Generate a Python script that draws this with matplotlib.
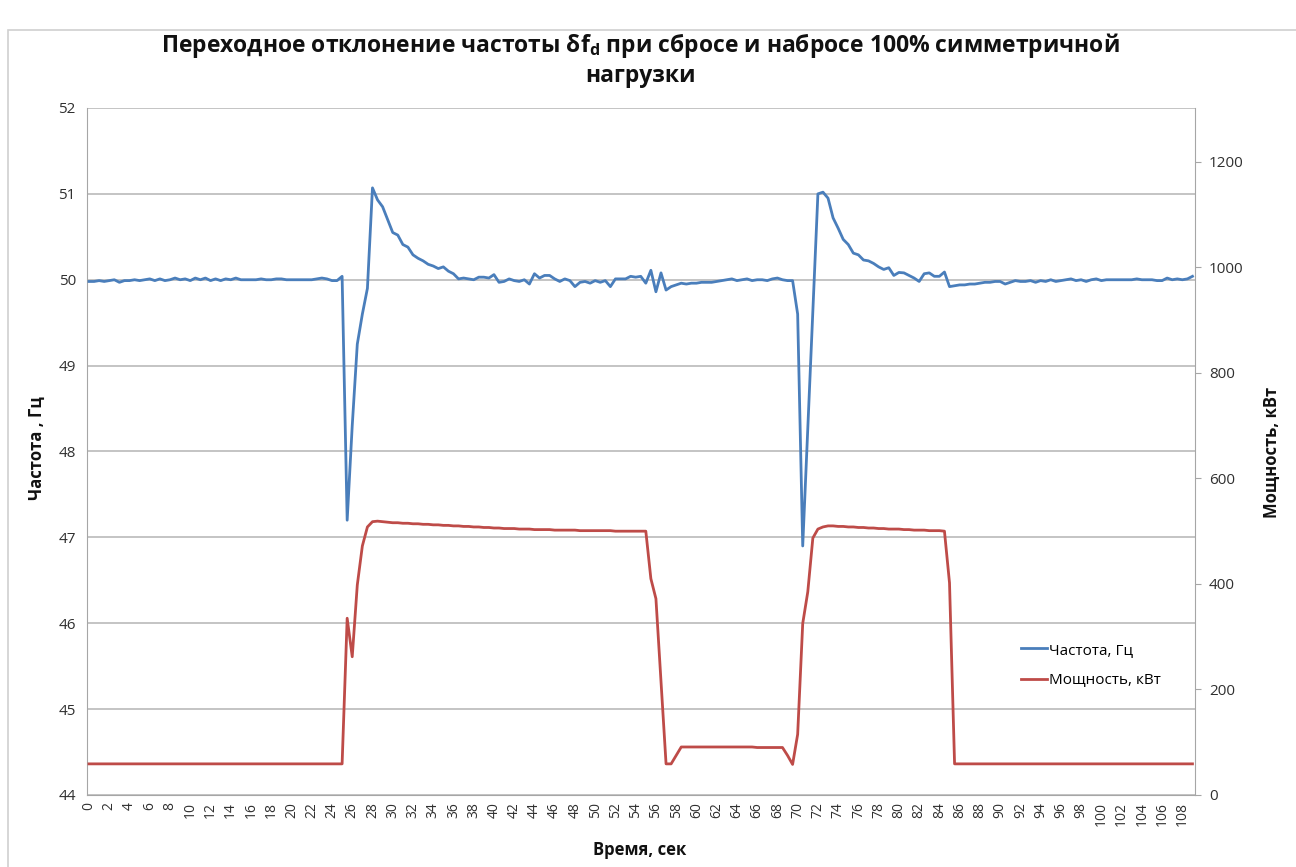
import numpy as np
import matplotlib
matplotlib.use('Agg')
import matplotlib.pyplot as plt
from matplotlib.patches import Rectangle

plt.rcParams['font.family'] = ['Open Sans', 'DejaVu Sans']
plt.rcParams['mathtext.fontset'] = 'custom'
plt.rcParams['mathtext.rm'] = 'Open Sans'
plt.rcParams['mathtext.bf'] = 'Open Sans:bold'

# время, с (шаг 0.5 с)
time_s = np.arange(0, 109.5, 0.5)

freq_hz = [
    49.98, 49.98, 49.99, 49.98, 49.99, 50.00, 49.97, 49.99, 49.99, 50.00,
    49.99, 50.00, 50.01, 49.99, 50.01, 49.99, 50.00, 50.02, 50.00, 50.01,
    49.99, 50.02, 50.00, 50.02, 49.99, 50.01, 49.99, 50.01, 50.00, 50.02,
    50.00, 50.00, 50.00, 50.00, 50.01, 50.00, 50.00, 50.01, 50.01, 50.00,
    50.00, 50.00, 50.00, 50.00, 50.00, 50.01, 50.02, 50.01, 49.99, 49.99,
    50.04, 47.20, 48.30, 49.25, 49.60, 49.90, 51.07, 50.93, 50.85, 50.70,
    50.55, 50.52, 50.41, 50.38, 50.29, 50.25, 50.22, 50.18, 50.16, 50.13,
    50.15, 50.10, 50.07, 50.01, 50.02, 50.01, 50.00, 50.03, 50.03, 50.02,
    50.06, 49.97, 49.98, 50.01, 49.99, 49.98, 50.00, 49.95, 50.07, 50.02,
    50.05, 50.05, 50.01, 49.98, 50.01, 49.99, 49.92, 49.97, 49.98, 49.96,
    49.99, 49.97, 49.99, 49.92, 50.01, 50.01, 50.01, 50.04, 50.03, 50.04,
    49.96, 50.11, 49.86, 50.08, 49.88, 49.92, 49.94, 49.96, 49.95, 49.96,
    49.96, 49.97, 49.97, 49.97, 49.98, 49.99, 50.00, 50.01, 49.99, 50.00,
    50.01, 49.99, 50.00, 50.00, 49.99, 50.01, 50.02, 50.00, 49.99, 49.99,
    49.60, 46.90, 48.27, 49.63, 51.00, 51.02, 50.95, 50.72, 50.60, 50.47,
    50.41, 50.31, 50.29, 50.23, 50.22, 50.19, 50.15, 50.12, 50.14, 50.05,
    50.085, 50.08, 50.05, 50.02, 49.98, 50.07, 50.08, 50.04, 50.04, 50.09,
    49.92, 49.93, 49.94, 49.94, 49.95, 49.95, 49.96, 49.97, 49.97, 49.98,
    49.98, 49.95, 49.97, 49.99, 49.98, 49.98, 49.99, 49.97, 49.99, 49.98,
    50.00, 49.98, 49.99, 50.00, 50.01, 49.99, 50.00, 49.98, 50.00, 50.01,
    49.99, 50.00, 50.00, 50.00, 50.00, 50.00, 50.00, 50.01, 50.00, 50.00,
    50.00, 49.99, 49.99, 50.02, 50.00, 50.01, 50.00, 50.01, 50.04,
]

power_kw = [
    59, 59, 59, 59, 59, 59, 59, 59, 59, 59,
    59, 59, 59, 59, 59, 59, 59, 59, 59, 59,
    59, 59, 59, 59, 59, 59, 59, 59, 59, 59,
    59, 59, 59, 59, 59, 59, 59, 59, 59, 59,
    59, 59, 59, 59, 59, 59, 59, 59, 59, 59,
    59, 335, 262, 398, 472, 508, 518, 519, 518, 517,
    516, 516, 515, 515, 514, 514, 513, 513, 512, 512,
    511, 511, 510, 510, 509, 509, 508, 508, 507, 507,
    506, 506, 505, 505, 505, 504, 504, 504, 503, 503,
    503, 503, 502, 502, 502, 502, 502, 501, 501, 501,
    501, 501, 501, 501, 500, 500, 500, 500, 500, 500,
    500, 410, 372, 215, 59, 59, 75, 91, 91, 91,
    91, 91, 91, 91, 91, 91, 91, 91, 91, 91,
    91, 91, 90, 90, 90, 90, 90, 90, 75, 58,
    115, 325, 385, 487, 504, 508, 510, 510, 509, 509,
    508, 508, 507, 507, 506, 506, 505, 505, 504, 504,
    504, 503, 503, 502, 502, 502, 501, 501, 501, 500,
    402, 59, 59, 59, 59, 59, 59, 59, 59, 59,
    59, 59, 59, 59, 59, 59, 59, 59, 59, 59,
    59, 59, 59, 59, 59, 59, 59, 59, 59, 59,
    59, 59, 59, 59, 59, 59, 59, 59, 59, 59,
    59, 59, 59, 59, 59, 59, 59, 59, 59,
]

x_ticks = list(range(0, 110, 2))
freq_ticks = [44, 45, 46, 47, 48, 49, 50, 51, 52]
power_ticks = [0, 200, 400, 600, 800, 1000, 1200]

BLUE = '#4a7ebb'
RED = '#be4b48'
GRID = '#bfbfbf'
TXT = '#303030'

fig = plt.figure(figsize=(12.96, 8.67), dpi=100)
fig.patches.append(Rectangle((8 / 1296, -0.01), 1.0, 1 - 30 / 867 + 0.01,
                             transform=fig.transFigure, fill=False,
                             edgecolor='#d0d0d0', linewidth=1.2))

ax1 = fig.add_axes([87 / 1296, 1 - 795 / 867, (1195 - 87) / 1296, (795 - 108) / 867])
ax1.plot(time_s, freq_hz, color=BLUE, linewidth=2.0, label='Частота, Гц', zorder=3)
ax1.set_xlim(-0.2, 109.25)
ax1.set_ylim(44, 52)
ax1.set_yticks(freq_ticks)
ax1.set_xticks(x_ticks)
ax1.set_xticklabels([str(v) for v in x_ticks], rotation=90)
ax1.grid(axis='y', color=GRID, linewidth=1.3)
ax1.set_axisbelow(True)
ax1.tick_params(axis='y', length=0, pad=8, labelsize=11, labelcolor=TXT)
ax1.tick_params(axis='x', length=0, pad=5, labelsize=10, labelcolor=TXT)
for side in ['top', 'right']:
    ax1.spines[side].set_visible(False)
for side in ['left', 'bottom']:
    ax1.spines[side].set_color('#a6a6a6')

ax2 = ax1.twinx()
ax2.plot(time_s, power_kw, color=RED, linewidth=2.0, label='Мощность, кВт', zorder=3)
ax2.set_ylim(0, 1302)
ax2.set_yticks(power_ticks)
ax2.tick_params(axis='y', length=4, color='#a6a6a6', pad=6, labelsize=11, labelcolor=TXT)
for side in ['top', 'left', 'bottom']:
    ax2.spines[side].set_visible(False)
ax2.spines['right'].set_color('#a6a6a6')

fig.text(0.494, 1 - 45 / 867,
         r'Переходное отклонение частоты δf$_\mathbf{d}$ при сбросе и набросе 100% симметричной',
         ha='center', va='center', fontsize=16.5, fontweight='bold', color='#111111')
fig.text(0.494, 1 - 76 / 867, 'нагрузки',
         ha='center', va='center', fontsize=16.5, fontweight='bold', color='#111111')

fig.text(37 / 1296, 1 - 448 / 867, 'Частота , Гц', rotation=90,
         ha='center', va='center', fontsize=12, fontweight='bold', color='#111111')
fig.text(1272 / 1296, 1 - 452 / 867, 'Мощность, кВт', rotation=90,
         ha='center', va='center', fontsize=12, fontweight='bold', color='#111111')
fig.text(640 / 1296, 1 - 850 / 867, 'Время, сек',
         ha='center', va='center', fontsize=12, fontweight='bold', color='#111111')

lines1, labels1 = ax1.get_legend_handles_labels()
lines2, labels2 = ax2.get_legend_handles_labels()
ax2.legend(lines1 + lines2, labels1 + labels2, loc='upper left',
           bbox_to_anchor=(1010 / 1296, 1 - 632 / 867), bbox_transform=fig.transFigure,
           frameon=False, fontsize=11, handlelength=1.7, handletextpad=0.15,
           labelspacing=1.0, borderpad=0.2)

plt.savefig('out.png', dpi=100)
plt.close()
